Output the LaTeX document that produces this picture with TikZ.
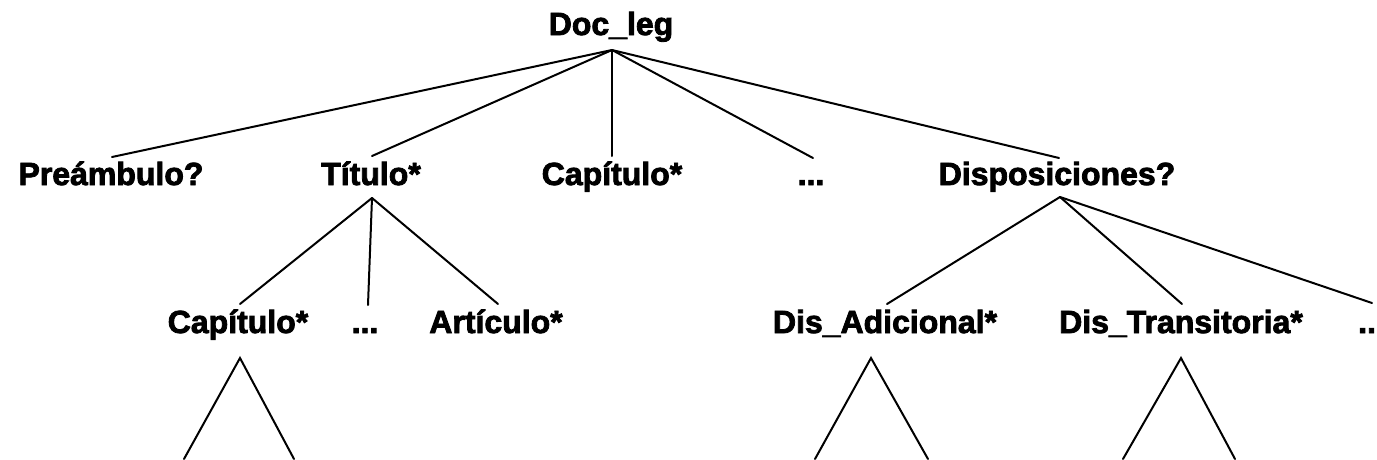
\documentclass[tikz,border=0pt]{standalone}
\usepackage{fontspec}
\setmainfont[BoldFeatures={FakeBold=2.5}]{Liberation Sans}
\begin{document}
\begin{tikzpicture}[x=1pt,y=-1pt,
  lbl/.style={font=\bfseries\fontsize{32}{38}\selectfont, inner sep=0pt, anchor=base},
  edge/.style={line width=2pt, line cap=round}]
\useasboundingbox[fill=white] (0,0) rectangle (1377,459);
% labels
\node[lbl] (doc) at (611,35) {Doc\_leg};
\node[lbl] (pre) at (111,185) {Preámbulo?};
\node[lbl] (tit) at (371,185) {Título*};
\node[lbl] (cap1) at (612,185) {Capítulo*};
\node[lbl] (dots1) at (811,185) {...};
\node[lbl] (disp) at (1057,185) {Disposiciones?};
\node[lbl] (cap2) at (238,333) {Capítulo*};
\node[lbl] (dots2) at (365,333) {...};
\node[lbl] (art) at (496,333) {Artículo*};
\node[lbl] (adic) at (885,333) {Dis\_Adicional*};
\node[lbl] (trans) at (1181,333) {Dis\_Transitoria*};
\node[lbl, anchor=base west] (dots3) at (1358,333) {..};
% attachment points
\coordinate (doc-b) at (612,50);
\coordinate (pre-t) at (112,157);
\coordinate (tit-t) at (372,156);
\coordinate (cap1-t) at (612,156);
\coordinate (dots1-t) at (813,158);
\coordinate (disp-t) at (1059,158);
\coordinate (tit-b) at (372,198);
\coordinate (cap2-t) at (240,304);
\coordinate (dots2-t) at (368,305);
\coordinate (art-t) at (498,304);
\coordinate (disp-b) at (1060,197);
\coordinate (adic-t) at (887,304);
\coordinate (trans-t) at (1182,304);
\coordinate (dots3-t) at (1372,303);
\coordinate (cap2-b) at (240,358);
\coordinate (cap2-l) at (184,459);
\coordinate (cap2-r) at (294,459);
\coordinate (adic-b) at (871,358);
\coordinate (adic-l) at (815,459);
\coordinate (adic-r) at (928,459);
\coordinate (trans-b) at (1181,358);
\coordinate (trans-l) at (1123,459);
\coordinate (trans-r) at (1235,459);
% connectors
\foreach \t in {pre-t,tit-t,cap1-t,dots1-t,disp-t} \draw[edge] (doc-b) -- (\t);
\foreach \t in {cap2-t,dots2-t,art-t} \draw[edge] (tit-b) -- (\t);
\foreach \t in {adic-t,trans-t,dots3-t} \draw[edge] (disp-b) -- (\t);
\draw[edge] (cap2-l) -- (cap2-b) -- (cap2-r);
\draw[edge] (adic-l) -- (adic-b) -- (adic-r);
\draw[edge] (trans-l) -- (trans-b) -- (trans-r);
\end{tikzpicture}
\end{document}
